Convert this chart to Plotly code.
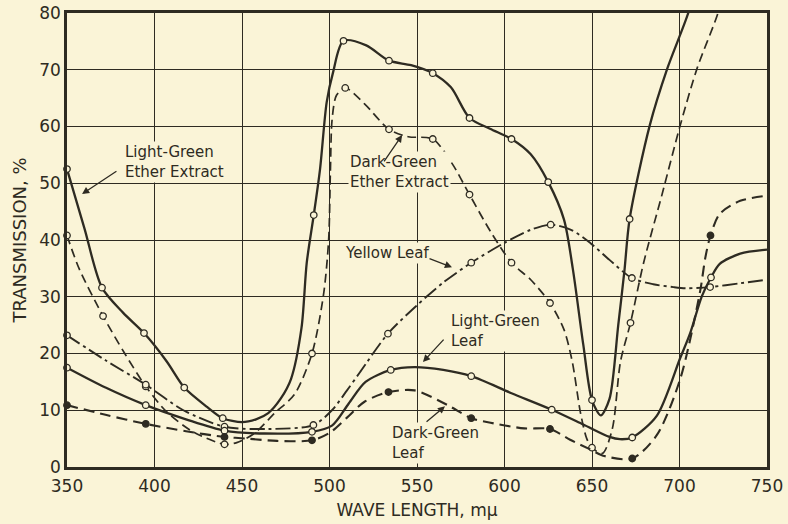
import plotly.graph_objects as go

# ---------------- data ----------------
# Light-Green Ether Extract (solid, open circles)
lge_x = [350, 360, 370, 382, 394, 407, 417, 430, 439, 450, 458, 465, 472, 478, 484, 487, 491, 494.6, 498.4, 502, 508,
         521, 534, 546.6, 559, 569.4, 580, 591.7, 604, 615, 625, 634, 639, 645, 650, 655, 660, 665, 668.5, 671.5,
         683, 693, 705, 712]
lge_y = [52.5, 42, 31.6, 27.2, 23.6, 18.6, 14.0, 10.6, 8.6, 7.9, 8.4, 9.5, 12.0, 15.5, 24.5, 36, 44.4, 52.5, 64.3, 69.5, 75.1,
         74.3, 71.6, 70.8, 69.4, 66.9, 61.5, 59.6, 57.8, 55.1, 50.2, 43.6, 35.0, 21.6, 11.8, 9.1, 12.0, 25.0, 34.5, 43.7,
         60.2, 70.2, 80, 88]
lge_px = [350, 370, 394, 417, 439, 491, 508, 534, 559, 580, 604, 625, 650, 671.5]
lge_py = [52.5, 31.6, 23.6, 14.0, 8.6, 44.4, 75.1, 71.6, 69.4, 61.5, 57.8, 50.2, 11.8, 43.7]

# Dark-Green Ether Extract (dashed, open circles)
dge_x = [350, 357, 370.6, 383, 395, 407, 422, 440, 447, 457, 468.7, 480, 490, 496.6, 499.5, 500.5, 501.5, 504, 509,
         520, 534, 545, 559, 570, 580, 592, 604, 615, 626, 634, 638.7, 643.5, 647, 650, 656, 661.6, 666.3, 672,
         679.5, 690, 700.4, 710, 722, 728]
dge_y = [40.8, 34.9, 26.6, 20.0, 14.2, 9.7, 6.2, 4.0, 4.3, 5.9, 9.5, 12.8, 20.0, 30.4, 40, 52, 61.3, 65.5, 66.8,
         64.0, 59.5, 58.2, 57.8, 53.5, 48.0, 41.5, 36.0, 33.0, 28.9, 24.2, 18.6, 9.4, 5.0, 3.4, 2.4, 6.7, 18.6, 25.4,
         36.0, 48.0, 60.2, 70.2, 80, 87]
dge_px = [350, 370.6, 395, 440, 490, 509, 534, 559, 580, 604, 626, 650, 672]
dge_py = [40.8, 26.6, 14.2, 4.0, 20.0, 66.8, 59.5, 57.8, 48.0, 36.0, 28.9, 3.4, 25.4]

# Yellow Leaf (dash-dot, open circles)
yl_x = [350, 372, 395, 416.5, 440, 465, 490.8, 501.4, 510, 517.4, 533.4, 550, 565, 581, 600, 615, 626.4, 638, 649.3,
        660, 672.8, 685, 696.6, 704, 717.5, 735, 750]
yl_y = [23.2, 18.8, 14.5, 10.0, 7.1, 6.7, 7.4, 10.0, 13.5, 16.7, 23.5, 28.5, 32.5, 36.0, 39.5, 41.8, 42.7, 41.8, 39.4,
        36.5, 33.3, 32.2, 31.7, 31.5, 31.7, 32.4, 33.0]
yl_px = [350, 395, 440, 490.8, 533.4, 581, 626.4, 672.8, 717.5]
yl_py = [23.2, 14.5, 7.1, 7.4, 23.5, 36.0, 42.7, 33.3, 31.7]

# Light-Green Leaf (solid, open circles)
lgl_x = [350, 372, 395, 418, 440, 463, 490, 501.4, 511, 520.6, 535, 548.6, 565, 581, 604, 627, 645, 660, 666, 673,
         687, 700.4, 706, 712.8, 718, 723, 734.7, 750]
lgl_y = [17.5, 14.0, 10.9, 8.4, 6.4, 5.9, 6.2, 7.3, 11.2, 15.0, 17.1, 17.6, 17.1, 16.0, 13.0, 10.1, 7.5, 5.3, 4.9, 5.2,
         9.0, 19.2, 23.5, 30.1, 33.4, 35.8, 37.6, 38.3]
lgl_px = [350, 395, 440, 490, 535, 581, 627, 673, 718]
lgl_py = [17.5, 10.9, 6.4, 6.2, 17.1, 16.0, 10.1, 5.2, 33.4]

# Dark-Green Leaf (dashed, filled dots)
dgl_x = [350, 372, 395, 418, 440, 453, 470, 490, 500, 510, 520, 533.7, 548.6, 567.5, 581, 592, 611.3, 626, 637.5, 649,
         656.3, 673, 687, 700.4, 711.8, 714.7, 717.7, 723, 734.7, 750]
dgl_y = [10.9, 9.2, 7.6, 6.3, 5.3, 5.0, 4.6, 4.7, 6.0, 8.7, 11.5, 13.2, 13.5, 10.9, 8.6, 7.8, 6.8, 6.7, 4.8, 3.1,
         2.0, 1.5, 5.6, 15.5, 31.0, 36.8, 40.8, 44.6, 46.9, 47.8]
dgl_px = [350, 395, 440, 490, 533.7, 581, 626, 673, 717.7]
dgl_py = [10.9, 7.6, 5.3, 4.7, 13.2, 8.6, 6.7, 1.5, 40.8]

x_ticks = [350, 400, 450, 500, 550, 600, 650, 700, 750]
y_ticks = [0, 10, 20, 30, 40, 50, 60, 70, 80]

# labels: (text, x, y) ; arrows: (tail_x, tail_y, head_x, head_y)
labels = [
    ("Light-Green<br>Ether Extract", 382, 53.7),
    ("Dark-Green<br>Ether Extract", 510.6, 52.0),
    ("Yellow Leaf", 507.7, 37.7),
    ("Light-Green<br>Leaf", 568.3, 24.0),
    ("Dark-Green<br>Leaf", 534.6, 4.3),
]
arrows = [
    (379.1, 52.3, 358.6, 48.1),
    (530.6, 53.6, 541.5, 58.5),
    (556.3, 36.8, 570.0, 35.2),
    (566.0, 22.7, 553.4, 18.5),
    (554.6, 7.75, 566.0, 10.7),
]

# ---------------- styling ----------------
BG = "#FAF4D7"
INK = "#2E2B22"
FONT = "DejaVu Sans"

fig = go.Figure()


def add_curve(xs, ys, px, py, dash, width, filled):
    fig.add_trace(go.Scatter(x=xs, y=ys, mode="lines",
                             line=dict(color=INK, width=width, dash=dash, shape="spline", smoothing=0.8),
                             hoverinfo="skip", showlegend=False))
    fig.add_trace(go.Scatter(x=px, y=py, mode="markers",
                             marker=dict(symbol="circle", size=6.5,
                                         color=INK if filled else BG,
                                         line=dict(color=INK, width=1.3)),
                             showlegend=False, cliponaxis=False))


add_curve(lge_x, lge_y, lge_px, lge_py, "solid", 2.3, False)
add_curve(dge_x, dge_y, dge_px, dge_py, "9px,5px", 1.7, False)
add_curve(yl_x, yl_y, yl_px, yl_py, "15px,4px,3px,4px", 1.9, False)
add_curve(lgl_x, lgl_y, lgl_px, lgl_py, "solid", 2.3, False)
add_curve(dgl_x, dgl_y, dgl_px, dgl_py, "11px,6px", 2.1, True)

annotations = []
for text, x, y in labels:
    annotations.append(dict(x=x, y=y, xref="x", yref="y", text=text, showarrow=False,
                            xanchor="left", yanchor="middle", align="left",
                            font=dict(family=FONT, size=15, color=INK),
                            bgcolor=BG, borderpad=1))
for tx, ty, hx, hy in arrows:
    annotations.append(dict(x=hx, y=hy, ax=tx, ay=ty, xref="x", yref="y", axref="x", ayref="y",
                            text="", showarrow=True, arrowhead=2, arrowsize=1.1, arrowwidth=1.3,
                            arrowcolor=INK, standoff=0, startstandoff=0))

fig.update_layout(
    width=788, height=524,
    margin=dict(l=67, r=21, t=13, b=57),
    paper_bgcolor=BG, plot_bgcolor=BG,
    font=dict(family=FONT, color=INK),
    annotations=annotations,
    xaxis=dict(range=[350, 750], tickvals=x_ticks, ticktext=[str(v) for v in x_ticks],
               showgrid=True, gridcolor=INK, gridwidth=1.3, zeroline=False,
               showline=True, linecolor=INK, linewidth=2.6, mirror=True,
               ticks="", tickfont=dict(size=17, family=FONT, color=INK), ticklabelstandoff=2,
               title=dict(text="WAVE LENGTH, mμ", font=dict(size=17, family=FONT, color=INK), standoff=9),
               automargin=False),
    yaxis=dict(range=[0, 80], tickvals=y_ticks, ticktext=[str(v) for v in y_ticks],
               showgrid=True, gridcolor=INK, gridwidth=1.3, zeroline=False,
               showline=True, linecolor=INK, linewidth=2.6, mirror=True,
               ticks="", tickfont=dict(size=17, family=FONT, color=INK),
               title=dict(text="TRANSMISSION, %", font=dict(size=18, family=FONT, color=INK), standoff=8),
               automargin=False),
)

fig.write_html("out.html", config={"displayModeBar": False},
               post_script="document.body.style.margin='0';document.body.style.background='%s';" % BG)
